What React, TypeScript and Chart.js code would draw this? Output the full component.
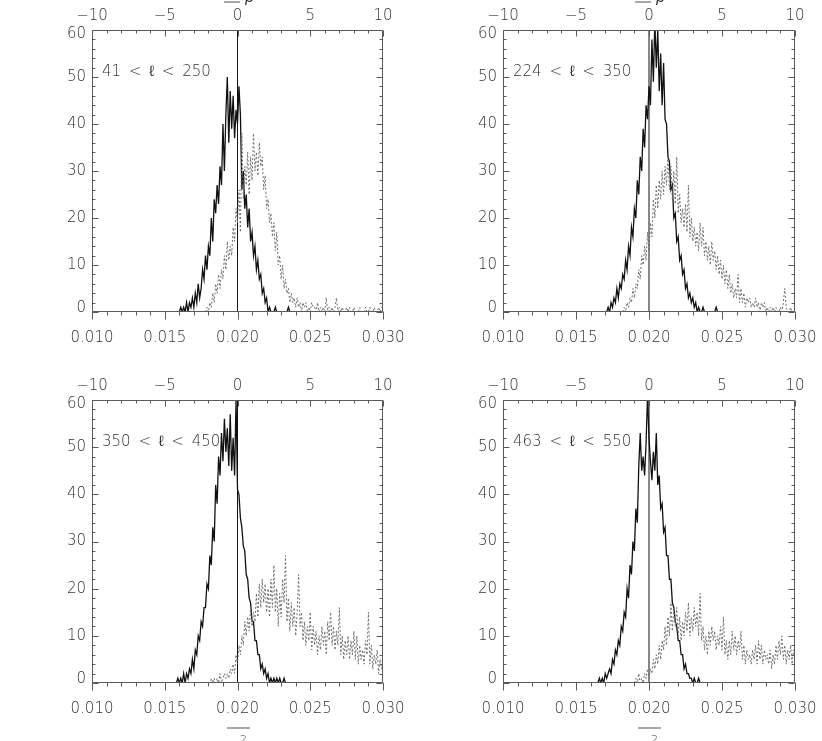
import React, { useEffect, useRef } from 'react';
import { Chart, registerables } from 'chart.js';

Chart.register(...registerables);

// ---------------- data ----------------
const BIN = 0.0001;
const X_MIN = 0.01;
const X_MAX = 0.03;
const Y_MIN = 0;
const Y_MAX = 60;
const TOP_MIN = -10;
const TOP_MAX = 10;
const REF_X = 0.02;

const panelLabels = [
  '41 \u2009< \u2009\u2113 \u2009< \u2009250',
  '224 \u2009< \u2009\u2113 \u2009< \u2009350',
  '350 \u2009< \u2009\u2113 \u2009< \u2009450',
  '463 \u2009< \u2009\u2113 \u2009< \u2009550',
];

const p1SolidStart = 0.016;
const p1Solid = [
  0, 1, 0, 1, 0, 2, 0, 2, 1, 3, 1, 4, 2, 6, 3, 5, 9, 7, 12, 9,
  14, 12, 20, 15, 24, 21, 27, 23, 31, 27, 40, 30, 42, 50, 36, 47, 39, 46, 37, 43,
  40, 48, 42, 26, 30, 22, 25, 18, 22, 15, 17, 12, 14, 9, 11, 7, 8, 4, 5, 2,
  3, 0, 1, 0, 0, 0, 1, 0, 0, 0, 0, 0, 0, 0, 0, 1, 0,
];
const p1DottedStart = 0.0178;
const p1Dotted = [
  0, 1, 0, 2, 1, 4, 2, 6, 4, 8, 5, 9, 7, 12, 9, 15, 11, 14, 12, 18,
  15, 22, 19, 26, 17, 38, 24, 31, 27, 34, 25, 33, 28, 38, 30, 34, 29, 36, 31, 33,
  26, 29, 22, 24, 19, 21, 16, 19, 13, 17, 10, 12, 7, 10, 5, 7, 4, 5, 2, 4,
  2, 3, 1, 3, 1, 2, 0, 2, 1, 2, 0, 1, 0, 2, 1, 1, 0, 2, 0, 1,
  0, 1, 0, 3, 0, 1, 0, 1, 0, 1, 3, 0, 1, 0, 1, 0, 0, 1, 0, 1,
  0, 0, 1, 0, 0, 0, 1, 0, 0, 0, 1, 0, 0, 1, 0, 0, 1, 0, 0, 1,
  0, 1, 1,
];

const p2SolidStart = 0.0171;
const p2Solid = [
  0, 1, 0, 2, 1, 3, 2, 5, 3, 6, 5, 8, 7, 11, 9, 14, 12, 18, 16, 22,
  20, 28, 25, 33, 30, 39, 35, 44, 41, 48, 44, 58, 49, 62, 52, 60, 47, 55, 44, 53,
  41, 40, 33, 32, 26, 27, 20, 21, 15, 16, 11, 12, 8, 9, 5, 6, 3, 4, 2, 3,
  1, 2, 0, 1, 0, 0, 1, 0, 0, 0, 0, 0, 0, 0, 0, 1, 0,
];
const p2DottedStart = 0.0182;
const p2Dotted = [
  0, 1, 0, 2, 1, 3, 2, 5, 3, 6, 5, 9, 7, 12, 10, 14, 11, 17, 13, 19,
  16, 24, 20, 27, 22, 28, 24, 30, 25, 31, 27, 33, 26, 31, 24, 30, 23, 33, 21, 25,
  19, 22, 18, 23, 17, 27, 16, 20, 15, 18, 14, 17, 13, 19, 14, 18, 12, 15, 11, 14,
  10, 15, 11, 13, 9, 12, 8, 11, 7, 10, 6, 9, 5, 8, 4, 6, 3, 5, 3, 8,
  2, 5, 2, 4, 1, 3, 2, 3, 1, 2, 1, 3, 1, 2, 0, 2, 1, 2, 0, 1,
  0, 1, 0, 1, 0, 1, 0, 0, 1, 0, 2, 5, 1, 0, 0, 1, 0, 0, 0,
];

const p3SolidStart = 0.0158;
const p3Solid = [
  0, 1, 0, 1, 0, 2, 0, 2, 1, 3, 2, 5, 3, 7, 6, 10, 9, 13, 12, 16,
  16, 21, 20, 27, 25, 33, 30, 42, 38, 48, 44, 53, 47, 56, 49, 54, 46, 57, 45, 52,
  44, 60, 41, 40, 35, 33, 29, 28, 23, 22, 18, 17, 13, 13, 9, 9, 6, 6, 3, 4,
  2, 3, 1, 2, 0, 1, 0, 1, 0, 1, 0, 1, 0, 0, 1, 0,
];
const p3DottedStart = 0.018;
const p3Dotted = [
  0, 0, 1, 0, 1, 0, 1, 0, 2, 0, 1, 2, 1, 2, 1, 3, 2, 4, 2, 6,
  4, 8, 6, 10, 8, 13, 10, 14, 11, 16, 12, 15, 13, 19, 14, 21, 16, 22, 17, 21,
  15, 20, 14, 22, 16, 25, 15, 20, 12, 19, 14, 22, 17, 27, 13, 18, 11, 17, 12, 16,
  10, 15, 23, 12, 15, 9, 13, 8, 12, 9, 15, 7, 12, 8, 11, 6, 10, 7, 12, 8,
  11, 6, 13, 9, 15, 8, 12, 7, 11, 8, 16, 6, 10, 5, 9, 6, 10, 5, 9, 6,
  11, 5, 10, 4, 8, 5, 7, 4, 9, 6, 15, 4, 8, 3, 6, 4, 7, 2, 5, 3,
  6,
];

const p4SolidStart = 0.0165;
const p4Solid = [
  0, 1, 0, 1, 0, 2, 1, 2, 3, 2, 5, 4, 7, 6, 9, 8, 12, 11, 15, 14,
  20, 18, 25, 23, 30, 28, 37, 34, 46, 53, 45, 48, 44, 51, 61, 52, 47, 43, 49, 45,
  53, 42, 44, 37, 38, 32, 33, 27, 27, 22, 22, 17, 16, 13, 12, 9, 9, 6, 6, 3,
  4, 2, 2, 1, 1, 0, 1, 0, 0, 1, 0,
];
const p4DottedStart = 0.019;
const p4Dotted = [
  0, 1, 0, 2, 0, 1, 0, 2, 1, 3, 1, 3, 2, 5, 3, 6, 4, 8, 5, 9,
  7, 12, 8, 14, 10, 17, 11, 16, 12, 16, 10, 14, 9, 13, 10, 15, 11, 17, 10, 14,
  11, 16, 12, 15, 10, 19, 9, 12, 7, 10, 6, 11, 8, 12, 9, 11, 7, 10, 8, 12,
  7, 14, 6, 9, 5, 9, 6, 11, 7, 10, 6, 9, 7, 11, 5, 8, 4, 7, 5, 6,
  4, 7, 5, 8, 4, 9, 5, 8, 4, 7, 5, 6, 4, 7, 3, 6, 4, 8, 5, 9,
  6, 10, 5, 8, 4, 7, 5, 8, 4, 7, 5,
];

// ---------------- styling ----------------
const TEXT_COLOR = '#333333';
const AXIS_COLOR = '#5a5a5a';
const SOLID_COLOR = '#111111';
const DOTTED_COLOR = '#6e6e6e';
const FONT_FAMILY = "'DejaVu Sans', 'Liberation Sans', sans-serif";
const FONT_SIZE = 15;
const FONT_WEIGHT = '200';

const toPoints = (start: number, vals: number[]) =>
  vals.map((v, i) => ({ x: Number((start + i * BIN).toFixed(5)), y: v }));

const idlPlugin = {
  id: 'idlAxes',
  afterDatasetsDraw(chart: any, _args: any, opts: any) {
    const { ctx, chartArea: a, scales } = chart;
    const xs = scales.x;
    const xt = scales.x2;
    const ys = scales.y;
    const L = Math.round(a.left) + 0.5;
    const R = Math.round(a.right) - 0.5;
    const T = Math.round(a.top) + 0.5;
    const B = Math.round(a.bottom) - 0.5;
    ctx.save();
    ctx.strokeStyle = AXIS_COLOR;
    ctx.lineWidth = 1;
    ctx.beginPath();
    ctx.rect(L, T, R - L, B - T);
    for (let i = 0; i <= 30; i++) {
      const v = Y_MIN + i * 2;
      const p = Math.round(ys.getPixelForValue(v)) + 0.5;
      const major = i % 5 === 0;
      ctx.moveTo(L, p);
      ctx.lineTo(L + (major ? 6 : 3), p);
      ctx.moveTo(R, p);
      ctx.lineTo(R - (major ? 6 : 3), p);
    }
    for (let i = 0; i <= 20; i++) {
      const v = TOP_MIN + i;
      const p = Math.round(xt.getPixelForValue(v)) + 0.5;
      const major = i % 5 === 0;
      ctx.moveTo(p, T);
      ctx.lineTo(p, T + (major ? 6 : 3));
    }
    for (let i = 0; i <= 20; i++) {
      const v = X_MIN + i * 0.001;
      const p = Math.round(xs.getPixelForValue(v)) + 0.5;
      const major = i % 5 === 0;
      ctx.moveTo(p, B);
      ctx.lineTo(p, B + (major ? 8 : 4));
    }
    ctx.stroke();

    ctx.fillStyle = TEXT_COLOR;
    ctx.font = `${FONT_WEIGHT} ${FONT_SIZE}px ${FONT_FAMILY}`;
    ctx.textBaseline = 'middle';
    ctx.textAlign = 'left';
    ctx.fillText(opts.label, a.left + 10, a.top + 42);

    ctx.strokeStyle = '#8a8a8a';
    ctx.lineWidth = 1.5;
    if (opts.topTitle) {
      ctx.beginPath();
      ctx.moveTo(a.left + 132, 2);
      ctx.lineTo(a.left + 148, 2);
      ctx.stroke();
      ctx.textBaseline = 'alphabetic';
      ctx.font = `italic ${FONT_WEIGHT} ${FONT_SIZE}px ${FONT_FAMILY}`;
      ctx.fillText('p', a.left + 153, 2);
    }
    if (opts.bottomTitle) {
      ctx.beginPath();
      ctx.moveTo(a.left + 135, a.bottom + 45);
      ctx.lineTo(a.left + 158, a.bottom + 45);
      ctx.stroke();
      ctx.textBaseline = 'top';
      ctx.font = `${FONT_WEIGHT} 11px ${FONT_FAMILY}`;
      ctx.fillText('2', a.left + 148, a.bottom + 52);
    }
    ctx.restore();
  },
};

type PanelCfg = {
  label: string;
  solidStart: number;
  solid: number[];
  dottedStart: number;
  dotted: number[];
  left: number;
  top: number;
  w: number;
  h: number;
  padRight: number;
  topTitle: boolean;
  bottomTitle: boolean;
};

const tickFont = (ctx: any) => {
  const v = ctx && ctx.tick ? ctx.tick.value : null;
  const edge = v === Y_MIN || v === Y_MAX;
  return { family: FONT_FAMILY, size: FONT_SIZE, weight: FONT_WEIGHT, lineHeight: edge ? 8 / FONT_SIZE : 1.2 };
};

const noPad = (s: any) => {
  s.paddingLeft = 0;
  s.paddingRight = 0;
};

function Panel({ cfg }: { cfg: PanelCfg }) {
  const ref = useRef<HTMLCanvasElement>(null);
  useEffect(() => {
    const font = { family: FONT_FAMILY, size: FONT_SIZE, weight: FONT_WEIGHT };
    const chart = new Chart(ref.current as HTMLCanvasElement, {
      type: 'line',
      data: {
        datasets: [
          {
            data: toPoints(cfg.dottedStart, cfg.dotted),
            borderColor: DOTTED_COLOR,
            borderWidth: 1,
            borderDash: [2, 2],
            pointRadius: 0,
            tension: 0,
            xAxisID: 'x',
            yAxisID: 'y',
          },
          {
            data: toPoints(cfg.solidStart, cfg.solid),
            borderColor: SOLID_COLOR,
            borderWidth: 1.3,
            pointRadius: 0,
            tension: 0,
            xAxisID: 'x',
            yAxisID: 'y',
          },
          {
            data: [
              { x: REF_X, y: Y_MIN },
              { x: REF_X, y: Y_MAX },
            ],
            borderColor: SOLID_COLOR,
            borderWidth: 1,
            pointRadius: 0,
            xAxisID: 'x',
            yAxisID: 'y',
          },
        ],
      } as any,
      options: {
        animation: false,
        responsive: false,
        devicePixelRatio: 1,
        parsing: false as any,
        normalized: true,
        layout: { padding: { left: 0, top: 0, bottom: 0, right: cfg.padRight } },
        plugins: {
          legend: { display: false },
          tooltip: { enabled: false },
          title: { display: false },
          idlAxes: { label: cfg.label, topTitle: cfg.topTitle, bottomTitle: cfg.bottomTitle },
        } as any,
        scales: {
          x: {
            type: 'linear',
            position: 'bottom',
            min: X_MIN,
            max: X_MAX,
            grid: { display: false, drawTicks: false },
            border: { display: false },
            ticks: {
              stepSize: 0.005,
              padding: 17,
              color: TEXT_COLOR,
              font,
              maxRotation: 0,
              autoSkip: false,
              callback: (v: any) => Number(v).toFixed(3),
            },
            afterFit: (s: any) => {
              s.height = 58;
              noPad(s);
            },
          },
          x2: {
            type: 'linear',
            position: 'top',
            min: TOP_MIN,
            max: TOP_MAX,
            grid: { display: false, drawTicks: false },
            border: { display: false },
            ticks: {
              stepSize: 5,
              padding: 5,
              color: TEXT_COLOR,
              font,
              maxRotation: 0,
              autoSkip: false,
              callback: (v: any) => (Number(v) < 0 ? '\u2212' + Math.abs(Number(v)) : String(v)),
            },
            afterFit: (s: any) => {
              s.height = 30;
              noPad(s);
            },
          },
          y: {
            type: 'linear',
            position: 'left',
            min: Y_MIN,
            max: Y_MAX,
            grid: { display: false, drawTicks: false },
            border: { display: false },
            ticks: {
              stepSize: 10,
              padding: 6,
              color: TEXT_COLOR,
              font: tickFont,
              autoSkip: false,
              callback: (v: any) => {
                const n = Number(v);
                if (n === Y_MAX) return ['', String(n)];
                if (n === Y_MIN) return [String(n), ''];
                return String(n);
              },
            },
            afterFit: (s: any) => {
              s.width = 92;
              s.paddingTop = 0;
              s.paddingBottom = 0;
            },
          },
        } as any,
      },
      plugins: [idlPlugin],
    });
    return () => chart.destroy();
  }, [cfg]);
  return (
    <canvas
      ref={ref}
      width={cfg.w}
      height={cfg.h}
      style={{ position: 'absolute', left: cfg.left, top: cfg.top, width: cfg.w, height: cfg.h }}
    />
  );
}

const panels: PanelCfg[] = [
  { label: panelLabels[0], solidStart: p1SolidStart, solid: p1Solid, dottedStart: p1DottedStart, dotted: p1Dotted, left: 0, top: 0, w: 411, h: 370, padRight: 28, topTitle: true, bottomTitle: false },
  { label: panelLabels[1], solidStart: p2SolidStart, solid: p2Solid, dottedStart: p2DottedStart, dotted: p2Dotted, left: 411, top: 0, w: 411, h: 370, padRight: 27, topTitle: true, bottomTitle: false },
  { label: panelLabels[2], solidStart: p3SolidStart, solid: p3Solid, dottedStart: p3DottedStart, dotted: p3Dotted, left: 0, top: 370, w: 411, h: 371, padRight: 28, topTitle: false, bottomTitle: true },
  { label: panelLabels[3], solidStart: p4SolidStart, solid: p4Solid, dottedStart: p4DottedStart, dotted: p4Dotted, left: 411, top: 370, w: 411, h: 371, padRight: 27, topTitle: false, bottomTitle: true },
];

export default function App() {
  return (
    <div style={{ position: 'absolute', left: 0, top: 0, width: 822, height: 741, background: '#ffffff', overflow: 'hidden' }}>
      {panels.map((p, i) => (
        <Panel key={i} cfg={p} />
      ))}
    </div>
  );
}
